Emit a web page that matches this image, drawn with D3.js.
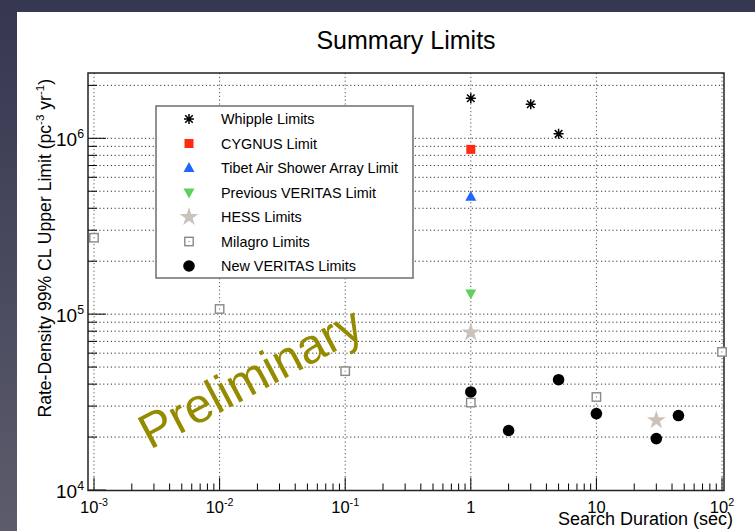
<!DOCTYPE html>
<html>
<head>
<meta charset="utf-8">
<script src="https://cdn.jsdelivr.net/npm/d3@7"></script>
<style>
  body { margin: 0; background: #fff; }
  svg { display: block; font-family: "Liberation Sans", Arial, Helvetica, sans-serif; }
</style>
</head>
<body>
<svg width="755" height="531"></svg>
<script>
// data
var whippleX = [1, 3, 5];
var whippleY = [1.69e6, 1.56e6, 1.06e6];
var cygnusX = [1];
var cygnusY = [8.65e5];
var tibetX = [1];
var tibetY = [4.65e5];
var prevVeritasX = [1];
var prevVeritasY = [1.31e5];
var hessX = [1, 30];
var hessY = [7.87e4, 2.49e4];
var milagroX = [1e-3, 1e-2, 1e-1, 1, 10, 100];
var milagroY = [2.72e5, 1.07e5, 4.74e4, 3.14e4, 3.38e4, 6.1e4];
var newVeritasX = [1, 2, 5, 10, 30, 45];
var newVeritasY = [3.61e4, 2.18e4, 4.24e4, 2.72e4, 1.96e4, 2.65e4];

var legendLabels = ["Whipple Limits", "CYGNUS Limit", "Tibet Air Shower Array Limit",
  "Previous VERITAS Limit", "HESS Limits", "Milagro Limits", "New VERITAS Limits"];

var xTicks = [1e-3, 1e-2, 1e-1, 1, 10, 100];
var xTickLabels = [["10", "-3"], ["10", "-2"], ["10", "-1"], ["1", ""], ["10", ""], ["10", "2"]];
var yTicks = [1e4, 1e5, 1e6];
var yTickLabels = [["10", "4"], ["10", "5"], ["10", "6"]];

var svg = d3.select("svg");

// slide background
var defs = svg.append("defs");
var grad = defs.append("linearGradient").attr("id", "side").attr("x1", 0).attr("y1", 0).attr("x2", 0).attr("y2", 1);
grad.append("stop").attr("offset", "0%").attr("stop-color", "#363750");
grad.append("stop").attr("offset", "100%").attr("stop-color", "#5c5c6c");
svg.append("rect").attr("width", 755).attr("height", 531).attr("fill", "url(#side)");
svg.append("rect").attr("x", 17).attr("y", 12).attr("width", 738).attr("height", 519).attr("fill", "#fff");

// frame
var fL = 88, fR = 724, fT = 73, fB = 490.5;

var x = d3.scaleLog().domain([1e-3, 100]).range([94, 722]);
var y = d3.scaleLog().domain([1e4, 1e6]).range([490, 138.3]);

var g = svg.append("g");

// minor values
var yMinor = [];
[1e4, 1e5, 1e6].forEach(function(d) {
  for (var k = 1; k <= 9; k++) {
    var v = d * k;
    if (y(v) > fT + 1) yMinor.push(v);
  }
});
var xMinor = [];
[1e-3, 1e-2, 1e-1, 1, 10].forEach(function(d) {
  for (var k = 2; k <= 9; k++) xMinor.push(d * k);
});

// grid
g.selectAll(".hgrid").data(yMinor.filter(function(d) { return d > 1e4; }))
  .enter().append("line")
    .attr("x1", fL).attr("x2", fR)
    .attr("y1", function(d) { return y(d); }).attr("y2", function(d) { return y(d); })
    .attr("stroke", "#333").attr("stroke-width", 1).attr("stroke-dasharray", "1.2,2.6");
g.selectAll(".vgrid").data(xTicks)
  .enter().append("line")
    .attr("x1", function(d) { return x(d); }).attr("x2", function(d) { return x(d); })
    .attr("y1", fT).attr("y2", fB)
    .attr("stroke", "#555").attr("stroke-width", 1).attr("stroke-dasharray", "1.2,2.6");

// ticks
g.selectAll(".ytick").data(yMinor)
  .enter().append("line")
    .attr("x1", fL)
    .attr("x2", function(d) { return yTicks.indexOf(d) >= 0 ? fL + 18 : fL + 9; })
    .attr("y1", function(d) { return y(d); }).attr("y2", function(d) { return y(d); })
    .attr("stroke", "#000").attr("stroke-width", 1);
g.selectAll(".xtick").data(xTicks.concat(xMinor))
  .enter().append("line")
    .attr("x1", function(d) { return x(d); }).attr("x2", function(d) { return x(d); })
    .attr("y1", fB)
    .attr("y2", function(d) { return xTicks.indexOf(d) >= 0 ? fB - 13 : fB - 7; })
    .attr("stroke", "#000").attr("stroke-width", 1);

// frame box
g.append("rect").attr("x", fL).attr("y", fT).attr("width", fR - fL).attr("height", fB - fT)
  .attr("fill", "none").attr("stroke", "#222").attr("stroke-width", 1.5);

// tick labels
function powLabel(sel, parts, size) {
  sel.append("tspan").text(parts[0]);
  if (parts[1]) sel.append("tspan").attr("dy", -size * 0.42).attr("font-size", size * 0.65).text(parts[1]);
}
xTicks.forEach(function(d, i) {
  var t = g.append("text").attr("x", x(d)).attr("y", 513).attr("text-anchor", "middle")
    .attr("font-size", 16.5).attr("fill", "#000");
  powLabel(t, xTickLabels[i], 16.5);
});
yTicks.forEach(function(d, i) {
  var t = g.append("text").attr("x", 56).attr("y", y(d) + 8).attr("text-anchor", "start")
    .attr("font-size", 19).attr("fill", "#000");
  powLabel(t, yTickLabels[i], 19);
});

// titles
svg.append("text").attr("x", 406).attr("y", 49).attr("text-anchor", "middle")
  .attr("font-size", 25).attr("fill", "#000").text("Summary Limits");
svg.append("text").attr("x", 733).attr("y", 525).attr("text-anchor", "end")
  .attr("font-size", 18).attr("fill", "#000").text("Search Duration (sec)");
var yt = svg.append("text").attr("transform", "translate(51,79) rotate(-90)")
  .attr("text-anchor", "end").attr("font-size", 17.6).attr("fill", "#000");
yt.append("tspan").text("Rate-Density 99% CL Upper Limit (pc");
yt.append("tspan").attr("dy", -7.5).attr("font-size", 11.5).text("-3");
yt.append("tspan").attr("dy", 7.5).text(" yr");
yt.append("tspan").attr("dy", -7.5).attr("font-size", 11.5).text("-1");
yt.append("tspan").attr("dy", 7.5).text(")");

// marker drawers
function asterisk(sel, r) {
  sel.append("path")
    .attr("d", "M" + (-r) + ",0H" + r + "M0," + (-r) + "V" + r +
      "M" + (-r * 0.75) + "," + (-r * 0.75) + "L" + (r * 0.75) + "," + (r * 0.75) +
      "M" + (-r * 0.75) + "," + (r * 0.75) + "L" + (r * 0.75) + "," + (-r * 0.75))
    .attr("stroke", "#000").attr("stroke-width", 1.5).attr("fill", "none");
}
var markers = [
  function(s) { asterisk(s, 5); },
  function(s) { s.append("rect").attr("x", -4.5).attr("y", -4.5).attr("width", 9).attr("height", 9).attr("fill", "#ff2a10"); },
  function(s) { s.append("path").attr("d", "M0,-6L5.5,4L-5.5,4Z").attr("fill", "#1f66ff"); },
  function(s) { s.append("path").attr("d", "M0,6L5.5,-4L-5.5,-4Z").attr("fill", "#5cd25c"); },
  function(s) { s.append("path").attr("d", d3.symbol(d3.symbolStar, 110)()).attr("fill", "#cbc3bb"); },
  function(s) {
    s.append("rect").attr("x", -4.2).attr("y", -4.2).attr("width", 8.4).attr("height", 8.4)
      .attr("fill", "#fff").attr("stroke", "#888").attr("stroke-width", 1.4);
    s.append("circle").attr("r", 0.7).attr("fill", "#888");
  },
  function(s) { s.append("circle").attr("r", 5.8).attr("fill", "#000"); }
];

var seriesX = [whippleX, cygnusX, tibetX, prevVeritasX, hessX, milagroX, newVeritasX];
var seriesY = [whippleY, cygnusY, tibetY, prevVeritasY, hessY, milagroY, newVeritasY];

// legend box
var lg = svg.append("g");
lg.append("rect").attr("x", 156).attr("y", 106).attr("width", 257).attr("height", 172)
  .attr("fill", "#fff").attr("stroke", "#777").attr("stroke-width", 1.6);
legendLabels.forEach(function(name, i) {
  var cy = 119 + i * 24.5;
  var m = lg.append("g").attr("transform", "translate(189," + cy + ")");
  markers[i](m);
  lg.append("text").attr("x", 221).attr("y", cy + 5).attr("font-size", 14.4)
    .attr("fill", "#000").text(name);
});

// preliminary watermark
svg.append("text").attr("transform", "translate(150,450) rotate(-28)")
  .attr("font-size", 49).attr("fill", "#958b00").text("Preliminary");

// data points
seriesX.forEach(function(xs, i) {
  xs.forEach(function(xv, j) {
    var m = g.append("g").attr("transform", "translate(" + x(xv) + "," + y(seriesY[i][j]) + ")");
    markers[i](m);
  });
});
</script>
</body>
</html>
